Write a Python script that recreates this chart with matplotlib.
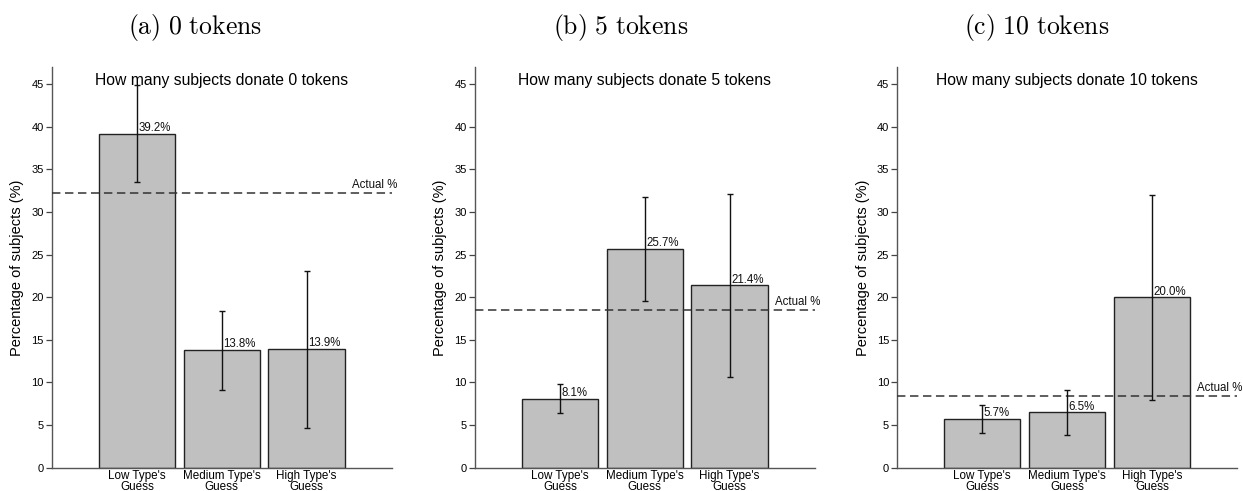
import matplotlib
matplotlib.use("Agg")
import matplotlib.pyplot as plt

plt.rcParams['font.family'] = ['Liberation Sans', 'DejaVu Sans']
plt.rcParams['mathtext.fontset'] = 'cm'

# data
categories = ["Low Type's\nGuess", "Medium Type's\nGuess", "High Type's\nGuess"]
panel_labels = ["(a) 0 tokens", "(b) 5 tokens", "(c) 10 tokens"]
titles = ["How many subjects donate 0 tokens",
          "How many subjects donate 5 tokens",
          "How many subjects donate 10 tokens"]

values_0 = [39.2, 13.8, 13.9]
lower_0 = [33.5, 9.1, 4.7]
upper_0 = [44.9, 18.4, 23.1]
actual_0 = 32.3

values_5 = [8.1, 25.7, 21.4]
lower_5 = [6.4, 19.6, 10.7]
upper_5 = [9.8, 31.8, 32.1]
actual_5 = 18.5

values_10 = [5.7, 6.5, 20.0]
lower_10 = [4.1, 3.8, 7.9]
upper_10 = [7.3, 9.1, 32.0]
actual_10 = 8.45

yticks = [0, 5, 10, 15, 20, 25, 30, 35, 40, 45]


def draw_panel(ax, values, lower, upper, actual, title):
    x = list(range(len(values)))
    err = [[v - lo for v, lo in zip(values, lower)],
           [hi - v for v, hi in zip(values, upper)]]
    ax.bar(x, values, width=0.9, color='#c0c0c0', edgecolor='#222222',
           linewidth=1.0, zorder=2)
    ax.errorbar(x, values, yerr=err, fmt='none', ecolor='#111111',
                elinewidth=1.0, capsize=2.5, capthick=1.0, zorder=4)
    for xi, v in zip(x, values):
        ax.annotate(f"{v:.1f}%", (xi, v), xytext=(1, 2),
                    textcoords='offset points', ha='left', va='baseline',
                    fontsize=8.3, color='#111111', zorder=5)
    ax.axhline(actual, color='#333333', linestyle=(0, (5.5, 3)),
               linewidth=1.1, zorder=3)
    ax.annotate("Actual %", (3.0, actual), xytext=(4, 3.5),
                textcoords='offset points', ha='right', va='baseline',
                fontsize=8.3, color='#111111', annotation_clip=False)
    ax.set_xlim(-1, 3)
    ax.set_ylim(0, 47)
    ax.set_yticks(yticks)
    ax.set_xticks(x)
    ax.set_xticklabels(categories, fontsize=8.4, linespacing=0.85)
    ax.tick_params(axis='x', length=0, pad=2)
    ax.tick_params(axis='y', labelsize=8, length=4, width=0.9,
                   color='#444444', pad=2)
    ax.set_ylabel("Percentage of subjects (%)", fontsize=10.5, labelpad=5)
    ax.text(0.5, 0.985, title, transform=ax.transAxes, ha='center',
            va='top', fontsize=11.3)
    for side in ['top', 'right']:
        ax.spines[side].set_visible(False)
    for side in ['left', 'bottom']:
        ax.spines[side].set_color('#555555')
        ax.spines[side].set_linewidth(1.0)


fig = plt.figure(figsize=(12.43, 4.91), dpi=100)
lefts = [0.0418, 0.3821, 0.7219]
panels = [(values_0, lower_0, upper_0, actual_0),
          (values_5, lower_5, upper_5, actual_5),
          (values_10, lower_10, upper_10, actual_10)]
label_x = [0.157, 0.4996, 0.834]

for i, (vals, lo, hi, act) in enumerate(panels):
    ax = fig.add_axes([lefts[i], 0.0475, 0.2732, 0.8155])
    draw_panel(ax, vals, lo, hi, act, titles[i])
    txt = panel_labels[i].replace(' ', r'\ ')
    fig.text(label_x[i], 0.945, r'$\mathrm{' + txt + '}$', ha='center',
             va='center', fontsize=18.5)

fig.savefig("out.png", dpi=100)
